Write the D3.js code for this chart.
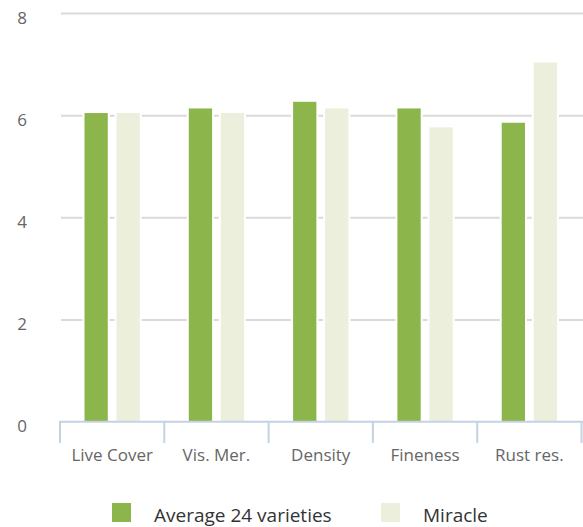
<!DOCTYPE html>
<html>
<head>
<meta charset="utf-8">
<script src="https://cdn.jsdelivr.net/npm/d3@7/dist/d3.min.js"></script>
<style>
  body { margin: 0; background: #fff; }
  text { font-family: "Open Sans", sans-serif; }
</style>
</head>
<body>
<svg width="583" height="527"></svg>
<script>
const categories = ['Live Cover', 'Vis. Mer.', 'Density', 'Fineness', 'Rust res.'];
const seriesNames = ['Average 24 varieties', 'Miracle'];
const averageValues = [6.07, 6.16, 6.29, 6.16, 5.88];
const miracleValues = [6.07, 6.07, 6.16, 5.79, 7.06];
const yTicks = [0, 2, 4, 6, 8];

const colors = ['#8cb54c', '#ebefdb'];

const svg = d3.select('svg');

const x = d3.scaleBand()
  .domain(categories)
  .range([60, 581.5]);

const xInner = d3.scaleBand()
  .domain(seriesNames)
  .range([23.5, x.bandwidth() - 23.5])
  .paddingInner(0.21);

const y = d3.scaleLinear()
  .domain([0, 8])
  .range([422, 13.5]);

// gridlines
svg.append('g')
  .selectAll('line')
  .data(yTicks.filter(d => d > 0))
  .enter().append('line')
    .attr('x1', 61)
    .attr('x2', 583)
    .attr('y1', d => y(d))
    .attr('y2', d => y(d))
    .attr('stroke', '#d9d9d9')
    .attr('stroke-width', 2);

// y labels
svg.append('g')
  .selectAll('text')
  .data(yTicks)
  .enter().append('text')
    .attr('x', 27)
    .attr('y', d => y(d) + 10)
    .attr('text-anchor', 'end')
    .attr('font-size', 17)
    .attr('fill', '#666')
    .text(d => d);

const rows = categories.map((c, i) => ({
  category: c,
  values: [averageValues[i], miracleValues[i]]
}));

// bars
const groups = svg.append('g')
  .selectAll('g')
  .data(rows)
  .enter().append('g')
    .attr('transform', d => `translate(${x(d.category)},0)`);

groups.selectAll('rect')
  .data(d => d.values.map((v, j) => ({ name: seriesNames[j], value: v, j })))
  .enter().append('rect')
    .attr('x', d => xInner(d.name))
    .attr('width', xInner.bandwidth())
    .attr('y', d => y(d.value))
    .attr('height', d => y(0) - y(d.value))
    .attr('fill', d => colors[d.j])
    .attr('stroke', '#fff')
    .attr('stroke-width', 2);

// x axis line and ticks
const axisG = svg.append('g');
axisG.append('line')
  .attr('x1', 60)
  .attr('x2', 583)
  .attr('y1', 421.7)
  .attr('y2', 421.7)
  .attr('stroke', '#c4d3e3')
  .attr('stroke-width', 2);

const tickPositions = categories.map(c => x(c)).concat([x.range()[1]]);
axisG.selectAll('.tick')
  .data(tickPositions)
  .enter().append('line')
    .attr('class', 'tick')
    .attr('x1', d => d)
    .attr('x2', d => d)
    .attr('y1', 421)
    .attr('y2', 443)
    .attr('stroke', '#c4d3e3')
    .attr('stroke-width', 2);

axisG.selectAll('.label')
  .data(categories)
  .enter().append('text')
    .attr('class', 'label')
    .attr('x', d => x(d) + x.bandwidth() / 2)
    .attr('y', 460.7)
    .attr('text-anchor', 'middle')
    .attr('font-size', 17)
    .attr('fill', '#666')
    .text(d => d);

// legend
const legendX = [112, 381];
const legend = svg.append('g')
  .selectAll('g')
  .data(seriesNames)
  .enter().append('g')
    .attr('transform', (d, i) => `translate(${legendX[i]},503)`);

legend.append('rect')
  .attr('width', 19)
  .attr('height', 19)
  .attr('fill', (d, i) => colors[i]);

legend.append('text')
  .attr('x', 42)
  .attr('y', 18.5)
  .attr('font-size', 19)
  .attr('fill', '#333')
  .text(d => d);
</script>
</body>
</html>
